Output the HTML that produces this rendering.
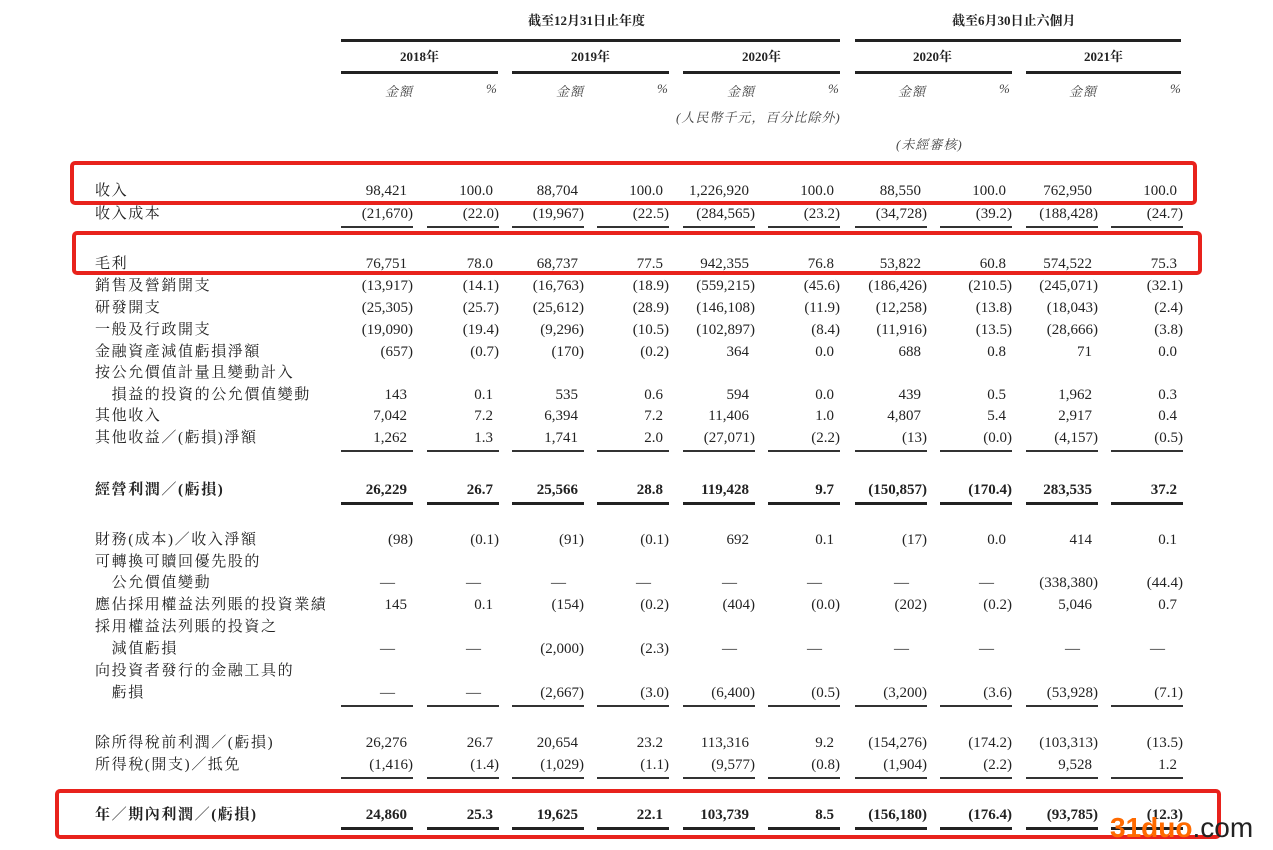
<!DOCTYPE html>
<html><head><meta charset="utf-8"><style>
body{margin:0;width:1273px;height:850px;background:#fff;position:relative;overflow:hidden;font-family:"Liberation Serif","Noto Serif CJK SC",serif;color:#222;}
.t{position:absolute;font-size:15px;white-space:nowrap;line-height:18px;}
.lab{letter-spacing:1.6px;}
.n{position:absolute;font-size:15px;white-space:nowrap;line-height:18px;text-align:right;width:100px;}
.b{font-weight:bold;}
.l{position:absolute;height:1.5px;background:#333;}
.L{position:absolute;height:2.5px;background:#222;}
.r{position:absolute;border:4px solid #e8221c;border-radius:5px;}
.h{position:absolute;font-size:13px;font-style:italic;color:#444;white-space:nowrap;letter-spacing:1px;}
</style></head><body>
<div class="t b" style="left:528px;top:12px;font-size:13px">截至12月31日止年度</div>
<div class="t b" style="left:952px;top:12px;font-size:13px">截至6月30日止六個月</div>
<div class="L" style="left:341px;top:39px;width:499px"></div>
<div class="L" style="left:855px;top:39px;width:326px"></div>
<div class="t b" style="left:400px;top:48px;font-size:13px">2018年</div>
<div class="t b" style="left:571px;top:48px;font-size:13px">2019年</div>
<div class="t b" style="left:742px;top:48px;font-size:13px">2020年</div>
<div class="t b" style="left:913px;top:48px;font-size:13px">2020年</div>
<div class="t b" style="left:1084px;top:48px;font-size:13px">2021年</div>
<div class="L" style="left:341px;top:71px;width:157px"></div>
<div class="L" style="left:512px;top:71px;width:157px"></div>
<div class="L" style="left:683px;top:71px;width:157px"></div>
<div class="L" style="left:855px;top:71px;width:157px"></div>
<div class="L" style="left:1026px;top:71px;width:155px"></div>
<div class="h" style="left:385px;top:81px">金額</div><div class="h" style="left:486px;top:81px">%</div>
<div class="h" style="left:556px;top:81px">金額</div><div class="h" style="left:657px;top:81px">%</div>
<div class="h" style="left:727px;top:81px">金額</div><div class="h" style="left:828px;top:81px">%</div>
<div class="h" style="left:898px;top:81px">金額</div><div class="h" style="left:999px;top:81px">%</div>
<div class="h" style="left:1069px;top:81px">金額</div><div class="h" style="left:1170px;top:81px">%</div>
<div class="h" style="left:676px;top:107px">(人民幣千元，百分比除外)</div>
<div class="h" style="left:896px;top:134px">(未經審核)</div>
<div id="rows"></div>
<div class="r" style="left:70px;top:161px;width:1119px;height:36px"></div>
<div class="r" style="left:72px;top:231px;width:1122px;height:36px"></div>
<div class="r" style="left:55px;top:789px;width:1158px;height:42px"></div>
<div class="t" style="left:1110px;top:812px;font-family:'Liberation Sans',sans-serif;font-weight:bold;font-size:28px;line-height:32px;color:#ff6a00">31duo<span style="color:#222;font-weight:normal">.com</span></div>
<script>
const xs=[341,427,512,597,683,768,855,940,1026,1111];
const R=[
[190,"收入",["98,421","100.0","88,704","100.0","1,226,920","100.0","88,550","100.0","762,950","100.0"]],
[213,"收入成本",["(21,670)","(22.0)","(19,967)","(22.5)","(284,565)","(23.2)","(34,728)","(39.2)","(188,428)","(24.7)"],1],
[263,"毛利",["76,751","78.0","68,737","77.5","942,355","76.8","53,822","60.8","574,522","75.3"]],
[285,"銷售及營銷開支",["(13,917)","(14.1)","(16,763)","(18.9)","(559,215)","(45.6)","(186,426)","(210.5)","(245,071)","(32.1)"]],
[307,"研發開支",["(25,305)","(25.7)","(25,612)","(28.9)","(146,108)","(11.9)","(12,258)","(13.8)","(18,043)","(2.4)"]],
[329,"一般及行政開支",["(19,090)","(19.4)","(9,296)","(10.5)","(102,897)","(8.4)","(11,916)","(13.5)","(28,666)","(3.8)"]],
[351,"金融資產減值虧損淨額",["(657)","(0.7)","(170)","(0.2)","364","0.0","688","0.8","71","0.0"]],
[372,"按公允價值計量且變動計入",null],
[394,"　損益的投資的公允價值變動",["143","0.1","535","0.6","594","0.0","439","0.5","1,962","0.3"]],
[415,"其他收入",["7,042","7.2","6,394","7.2","11,406","1.0","4,807","5.4","2,917","0.4"]],
[437,"其他收益／(虧損)淨額",["1,262","1.3","1,741","2.0","(27,071)","(2.2)","(13)","(0.0)","(4,157)","(0.5)"],1],
[489,"經營利潤／(虧損)",["26,229","26.7","25,566","28.8","119,428","9.7","(150,857)","(170.4)","283,535","37.2"],1,1],
[539,"財務(成本)／收入淨額",["(98)","(0.1)","(91)","(0.1)","692","0.1","(17)","0.0","414","0.1"]],
[561,"可轉換可贖回優先股的",null],
[582,"　公允價值變動",["—","—","—","—","—","—","—","—","(338,380)","(44.4)"]],
[604,"應佔採用權益法列賬的投資業績",["145","0.1","(154)","(0.2)","(404)","(0.0)","(202)","(0.2)","5,046","0.7"]],
[626,"採用權益法列賬的投資之",null],
[648,"　減值虧損",["—","—","(2,000)","(2.3)","—","—","—","—","—","—"]],
[670,"向投資者發行的金融工具的",null],
[692,"　虧損",["—","—","(2,667)","(3.0)","(6,400)","(0.5)","(3,200)","(3.6)","(53,928)","(7.1)"],1],
[742,"除所得稅前利潤／(虧損)",["26,276","26.7","20,654","23.2","113,316","9.2","(154,276)","(174.2)","(103,313)","(13.5)"]],
[764,"所得稅(開支)／抵免",["(1,416)","(1.4)","(1,029)","(1.1)","(9,577)","(0.8)","(1,904)","(2.2)","9,528","1.2"],1],
[814,"年／期內利潤／(虧損)",["24,860","25.3","19,625","22.1","103,739","8.5","(156,180)","(176.4)","(93,785)","(12.3)"],1,1]
];
let h="";
for(const [y,lab,v,ul,b] of R){
 const c=b?" b":"";
 h+=`<div class="t lab${c}" style="left:95px;top:${y-8}px">${lab}</div>`;
 if(v) v.forEach((s,i)=>{const dash=s=="—";const right=xs[i]+(dash?54:66)+(s.endsWith(")")?6:0);
  h+=`<div class="n${c}" style="left:${right-100}px;top:${y-8}px">${s}</div>`;});
 if(ul) xs.forEach(x=>{h+=`<div class="${b?'L':'l'}" style="left:${x}px;top:${y+13}px;width:72px"></div>`;});
}
document.getElementById("rows").innerHTML=h;
</script>
</body></html>
